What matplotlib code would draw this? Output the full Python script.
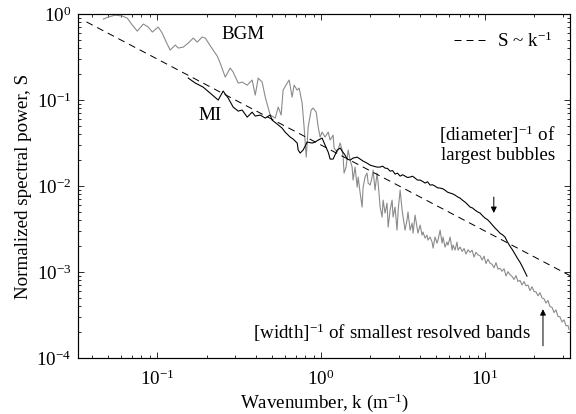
import numpy as np
import matplotlib
matplotlib.use("Agg")
import matplotlib.pyplot as plt
from matplotlib.ticker import LogLocator, FixedLocator, NullFormatter

# ---------------- data (log10 values) ----------------
mi_log_k = [-0.811, -0.768, -0.720, -0.677, -0.628, -0.598, -0.567, -0.537, -0.506, -0.482,
            -0.451, -0.421, -0.402, -0.372, -0.341, -0.311, -0.299, -0.268, -0.238, -0.220,
            -0.189, -0.171, -0.146, -0.140, -0.128, -0.110, -0.085, -0.055, -0.037, -0.018,
            0.006, 0.024, 0.043, 0.055, 0.073, 0.098, 0.116, 0.128, 0.146, 0.159,
            0.177, 0.195, 0.220, 0.238, 0.256, 0.280, 0.299, 0.317, 0.341,
            0.360, 0.375, 0.390, 0.405, 0.421, 0.436, 0.451, 0.466, 0.482, 0.497,
            0.512, 0.527, 0.543, 0.558, 0.573, 0.588, 0.604, 0.619, 0.634, 0.649,
            0.665, 0.680, 0.695, 0.710, 0.726, 0.741, 0.756, 0.771, 0.787, 0.802,
            0.817, 0.832, 0.848, 0.863, 0.878, 0.894, 0.909, 0.924, 0.939, 0.955,
            0.970, 0.985, 1.000, 1.015, 1.030, 1.046, 1.061, 1.076, 1.091, 1.106,
            1.122, 1.137, 1.152, 1.167, 1.183, 1.198, 1.213, 1.226, 1.238, 1.256]
mi_log_S = [-0.744, -0.802, -0.849, -0.919, -1.000, -0.895, -0.977, -1.081, -1.128, -1.116,
            -1.198, -1.140, -1.186, -1.174, -1.209, -1.174, -1.233, -1.279, -1.326, -1.372,
            -1.430, -1.453, -1.500, -1.581, -1.616, -1.581, -1.488, -1.500, -1.488, -1.465,
            -1.442, -1.523, -1.605, -1.686, -1.686, -1.581, -1.558, -1.593, -1.640, -1.686,
            -1.698, -1.674, -1.663, -1.686, -1.709, -1.733, -1.756, -1.767, -1.779,
            -1.779, -1.768, -1.791, -1.795, -1.826, -1.820, -1.860, -1.850, -1.884, -1.868,
            -1.884, -1.900, -1.895, -1.885, -1.907, -1.930, -1.930, -1.945, -1.965, -1.950,
            -1.988, -1.985, -2.000, -2.020, -2.023, -2.030, -2.047, -2.070, -2.081, -2.090,
            -2.105, -2.125, -2.140, -2.165, -2.186, -2.215, -2.244, -2.255, -2.279, -2.300,
            -2.314, -2.345, -2.372, -2.390, -2.419, -2.455, -2.488, -2.515, -2.547, -2.565,
            -2.593, -2.650, -2.698, -2.740, -2.791, -2.840, -2.884, -2.930, -2.977, -3.047]

bgm_log_k = [-1.329, -1.299, -1.256, -1.213, -1.183, -1.152, -1.122, -1.085, -1.055, -1.030,
             -0.994, -0.970, -0.945, -0.921, -0.890, -0.872, -0.841, -0.811, -0.780, -0.756,
             -0.726, -0.707, -0.683, -0.659, -0.634, -0.616, -0.585, -0.555, -0.537, -0.506,
             -0.482, -0.451, -0.421, -0.402, -0.384, -0.360, -0.341, -0.323, -0.311, -0.280,
             -0.262, -0.244, -0.232, -0.207, -0.195, -0.177, -0.165, -0.146, -0.134, -0.116,
             -0.104, -0.091, -0.079, -0.061, -0.049, -0.030, -0.018, -0.006, 0.006, 0.024,
             0.043, 0.055, 0.073, 0.079, 0.098, 0.116, 0.128, 0.134, 0.140, 0.152,
             0.165, 0.177, 0.189, 0.195, 0.207, 0.220, 0.226, 0.238, 0.250, 0.256,
             0.268, 0.280, 0.287, 0.299, 0.311, 0.317, 0.329, 0.341, 0.348, 0.360,
             0.372, 0.378, 0.390, 0.402, 0.409, 0.421, 0.433, 0.439, 0.451, 0.463,
             0.470, 0.482, 0.494, 0.500, 0.512, 0.524, 0.530, 0.543, 0.555, 0.561,
             0.573, 0.585, 0.591, 0.604, 0.616, 0.622, 0.634, 0.646, 0.652, 0.665,
             0.677, 0.683, 0.695, 0.707, 0.713, 0.726, 0.738, 0.744, 0.756, 0.768,
             0.774, 0.787, 0.799, 0.805, 0.817, 0.829, 0.835, 0.848, 0.860, 0.872,
             0.884, 0.896, 0.909, 0.921, 0.933, 0.945, 0.957, 0.970, 0.982, 0.994,
             1.006, 1.018, 1.030, 1.043, 1.055, 1.067, 1.079, 1.091, 1.104, 1.116,
             1.128, 1.140, 1.152, 1.165, 1.177, 1.189, 1.201, 1.213, 1.226, 1.238,
             1.250, 1.262, 1.274, 1.287, 1.299, 1.311, 1.323, 1.335, 1.348, 1.360,
             1.372, 1.384, 1.396, 1.409, 1.421, 1.433, 1.445, 1.457, 1.470, 1.482,
             1.494, 1.506, 1.512]
bgm_log_S = [-0.058, -0.035, -0.012, -0.023, -0.047, -0.128, -0.198, -0.116, -0.151, -0.209,
             -0.151, -0.221, -0.326, -0.419, -0.360, -0.395, -0.384, -0.337, -0.279, -0.326,
             -0.267, -0.279, -0.349, -0.419, -0.488, -0.570, -0.733, -0.628, -0.674, -0.802,
             -0.791, -0.826, -0.767, -0.942, -0.744, -0.791, -0.965, -1.093, -1.174, -1.209,
             -1.081, -1.174, -0.884, -0.802, -0.767, -0.965, -0.826, -0.884, -0.860, -1.035,
             -1.314, -1.663, -1.314, -1.116, -1.093, -1.140, -1.314, -1.430, -1.372, -1.430,
             -1.372, -1.465, -1.407, -1.558, -1.605, -1.500, -1.581, -1.663, -1.849, -1.779,
             -1.581, -1.698, -1.779, -1.930, -1.779, -2.012, -1.895, -2.081, -2.244, -2.012,
             -1.895, -1.849, -1.965, -1.988, -1.895, -1.814, -2.047, -1.849, -1.965, -2.244,
             -2.360, -2.163, -2.314, -2.198, -2.477, -2.279, -2.163, -2.360, -2.244, -2.512,
             -2.279, -2.047, -2.279, -2.360, -2.512, -2.395, -2.302, -2.512, -2.430, -2.547,
             -2.337, -2.477, -2.547, -2.453, -2.570, -2.535, -2.605, -2.570, -2.628, -2.593,
             -2.651, -2.721, -2.593, -2.663, -2.628, -2.512, -2.663, -2.593, -2.709, -2.651,
             -2.686, -2.593, -2.744, -2.686, -2.744, -2.651, -2.744, -2.709,
             -2.760, -2.725, -2.790, -2.740, -2.770, -2.745, -2.825, -2.770, -2.800, -2.810,
             -2.860, -2.815, -2.900, -2.850, -2.895, -2.910, -2.950, -2.890, -2.965, -2.955,
             -2.990, -2.960, -3.045, -2.995, -3.030, -3.050, -3.085, -3.040, -3.110, -3.095,
             -3.150, -3.110, -3.160, -3.150, -3.215, -3.170, -3.225, -3.230, -3.275, -3.240,
             -3.300, -3.310, -3.360, -3.330, -3.400, -3.410, -3.470, -3.440, -3.515, -3.520,
             -3.580, -3.555, -3.625, -3.620, -3.665]

ref_k = [0.037, 33.0]          # extent of the S ~ k^-1 reference line
ref_coef = 0.03                # S = ref_coef / k

xlim = (0.033, 33.0)
ylim = (1e-4, 1.0)
x_ticks = [0.1, 1.0, 10.0]
x_tick_labels = [r"$\mathregular{10^{-1}}$", r"$\mathregular{10^{0}}$", r"$\mathregular{10^{1}}$"]
y_ticks = [1e-4, 1e-3, 1e-2, 1e-1, 1.0]
y_tick_labels = [r"$\mathregular{10^{-4}}$", r"$\mathregular{10^{-3}}$", r"$\mathregular{10^{-2}}$",
                 r"$\mathregular{10^{-1}}$", r"$\mathregular{10^{0}}$"]

# ---------------- plotting ----------------
plt.rcParams["font.family"] = ["Liberation Serif", "DejaVu Serif"]
plt.rcParams["mathtext.fontset"] = "custom"
plt.rcParams["mathtext.rm"] = "Liberation Serif"
FS = 19

fig = plt.figure(figsize=(8, 5.75), dpi=72)
ax = fig.add_axes([0.136, 0.135, 0.8536, 0.831])

mi_k = 10 ** np.array(mi_log_k)
mi_S = 10 ** np.array(mi_log_S)
bgm_k = 10 ** np.array(bgm_log_k)
bgm_S = 10 ** np.array(bgm_log_S)

ax.plot(bgm_k, bgm_S, color="#8a8a8a", lw=1.1)
ax.plot(mi_k, mi_S, color="black", lw=1.1)
rk = np.array(ref_k)
ax.plot(rk, ref_coef / rk, color="black", lw=1.0, dashes=(7, 5), label=r"S ~ k$\mathregular{^{-1}}$")

ax.set_xscale("log")
ax.set_yscale("log")
ax.set_xlim(*xlim)
ax.set_ylim(*ylim)
ax.xaxis.set_major_locator(FixedLocator(x_ticks))
ax.set_xticklabels(x_tick_labels)
ax.yaxis.set_major_locator(FixedLocator(y_ticks))
ax.set_yticklabels(y_tick_labels)
ax.xaxis.set_minor_locator(LogLocator(base=10, subs=np.arange(2, 10)))
ax.yaxis.set_minor_locator(LogLocator(base=10, subs=np.arange(2, 10)))
ax.xaxis.set_minor_formatter(NullFormatter())
ax.yaxis.set_minor_formatter(NullFormatter())
ax.tick_params(which="both", direction="in", top=True, right=True, labelsize=FS, width=0.8)
ax.tick_params(which="major", length=6)
ax.tick_params(axis="x", which="major", pad=11)
ax.tick_params(axis="y", which="major", pad=7)
ax.tick_params(which="minor", length=3)
for s in ax.spines.values():
    s.set_linewidth(1.2)

ax.set_xlabel(r"Wavenumber, k (m$\mathregular{^{-1}}$)", fontsize=FS, labelpad=3)
ax.set_ylabel("Normalized spectral power, S", fontsize=FS, labelpad=4)

ax.text(0.335, 0.942, "BGM", transform=ax.transAxes, fontsize=FS, ha="center", va="center")
ax.text(0.268, 0.706, "MI", transform=ax.transAxes, fontsize=FS, ha="center", va="center")
ax.text(0.97, 0.622, "[diameter]$\\mathregular{^{-1}}$ of\nlargest bubbles", transform=ax.transAxes,
        fontsize=FS, ha="right", va="center", multialignment="right", linespacing=1.05)
ax.text(0.92, 0.075, "[width]$\\mathregular{^{-1}}$ of smallest resolved bands", transform=ax.transAxes,
        fontsize=FS, ha="right", va="center")
ax.annotate("", xy=(0.845, 0.416), xytext=(0.845, 0.474), xycoords="axes fraction",
            arrowprops=dict(arrowstyle="-|>", color="black", lw=1.0, mutation_scale=12))
ax.annotate("", xy=(0.945, 0.148), xytext=(0.945, 0.03), xycoords="axes fraction",
            arrowprops=dict(arrowstyle="-|>", color="black", lw=1.0, mutation_scale=12))

ax.legend(loc="upper right", frameon=False, fontsize=FS, handlelength=1.7,
          borderaxespad=0.5, handletextpad=0.6)

fig.savefig("out.png", dpi=72)
